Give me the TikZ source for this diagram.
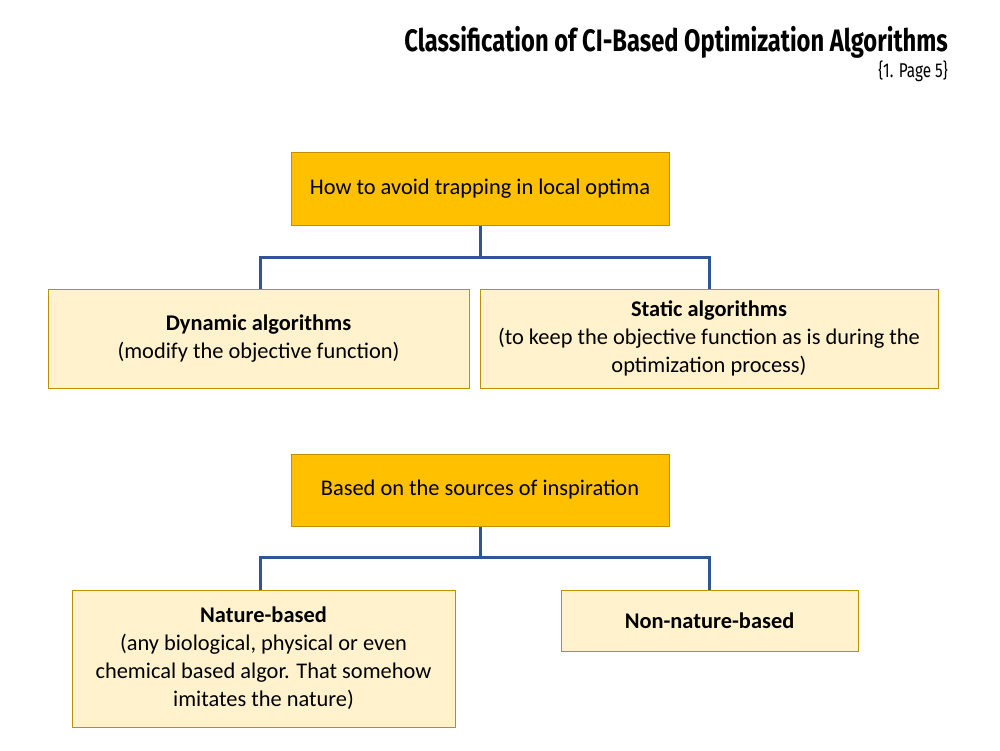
\documentclass[tikz,border=0pt]{standalone}
\usepackage{fontspec}
\setmainfont{Carlito}
\newfontfamily\titlefont[FakeStretch=0.765]{Fira Sans}
\definecolor{gold}{HTML}{FFC000}
\definecolor{goldedge}{HTML}{BF9000}
\definecolor{paleyellow}{HTML}{FFF2CC}
\definecolor{linkblue}{HTML}{2F5597}
\tikzset{
  headbox/.style={draw=goldedge, fill=gold, line width=1pt, inner sep=0pt, align=center, font=\fontsize{22.4}{28}\selectfont},
  leafbox/.style={draw=goldedge, fill=paleyellow, line width=1pt, inner sep=0pt, align=center, font=\fontsize{22.4}{28}\selectfont},
  link/.style={draw=linkblue, line width=3pt, line join=miter},
}
\begin{document}
\begin{tikzpicture}[x=1pt,y=-1pt]
\useasboundingbox (0,0) rectangle (1000,750);
% title
\node[anchor=base east, inner sep=0pt, font=\titlefont\bfseries\fontsize{31}{36}\selectfont] (title) at (948,51) {Classification of CI-Based Optimization Algorithms};
\node[anchor=base east, inner sep=0pt, font=\titlefont\fontsize{20}{24}\selectfont] (src) at (948,77) {\{1. Page 5\}};
% first tree
\node[headbox, minimum width=378pt, minimum height=73pt] (h1) at (480,188.5) {How to avoid trapping in local optima};
\node[leafbox, minimum width=421pt, minimum height=99pt] (dyn) at (258.5,338.5) {\textbf{Dynamic algorithms}\\(modify the objective function)};
\node[leafbox, minimum width=458pt, minimum height=99pt] (stat) at (709,338.5) {\textbf{Static algorithms}\\(to keep the objective function as is during the\\optimization process)};
\draw[link] (h1.south) -- ++(0,32) coordinate (j1);
\draw[link] (j1) -| ([xshift=1.5pt]dyn.north);
\draw[link] (j1) -| (stat.north);
% second tree
\node[headbox, minimum width=378pt, minimum height=72pt] (h2) at (480,490) {Based on the sources of inspiration};
\node[leafbox, minimum width=383pt, minimum height=137pt] (nat) at (263.5,658.5) {\textbf{Nature-based}\\(any biological, physical or even\\chemical based algor. That somehow\\imitates the nature)};
\node[leafbox, minimum width=297pt, minimum height=61pt] (non) at (709.5,620.5) {\textbf{Non-nature-based}};
\draw[link] (h2.south) -- ++(0,31) coordinate (j2);
\draw[link] (j2) -| ([xshift=-3.5pt]nat.north);
\draw[link] (j2) -| (non.north);
\end{tikzpicture}
\end{document}
